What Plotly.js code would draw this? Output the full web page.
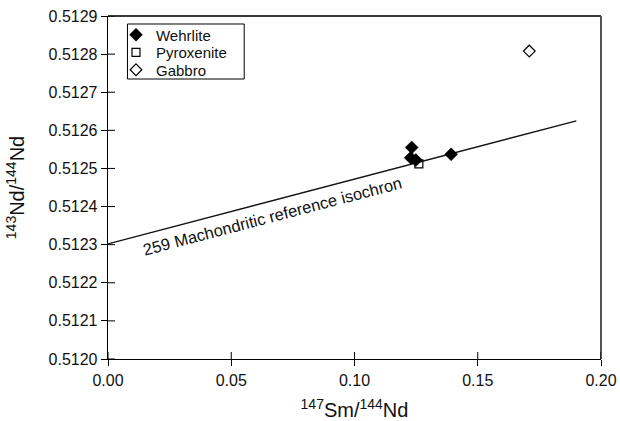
<!DOCTYPE html>
<html>
<head>
<meta charset="utf-8">
<script src="https://cdn.plot.ly/plotly-3.0.1.min.js"></script>
<style>html,body{margin:0;padding:0;background:#fff;}#chart{width:620px;height:421px;}</style>
</head>
<body>
<div id="chart"></div>
<script>
// Data
const wehrliteX = [0.1232, 0.1228, 0.1249, 0.1392];
const wehrliteY = [0.512555, 0.512528, 0.512522, 0.512537];
const pyroxeniteX = [0.1261];
const pyroxeniteY = [0.512512];
const gabbroX = [0.1709];
const gabbroY = [0.512808];
const isochronX = [0.0, 0.190];
const isochronY = [0.512302, 0.512625];
const isochronLabel = "259 Machondritic reference isochron";
const xTicks = [0.00, 0.05, 0.10, 0.15, 0.20];
const xTickText = ["0.00", "0.05", "0.10", "0.15", "0.20"];
const yTicks = [0.5120, 0.5121, 0.5122, 0.5123, 0.5124, 0.5125, 0.5126, 0.5127, 0.5128, 0.5129];
const yTickText = ["0.5120", "0.5121", "0.5122", "0.5123", "0.5124", "0.5125", "0.5126", "0.5127", "0.5128", "0.5129"];

const FONT = "Liberation Sans, Arial, Helvetica, sans-serif";
const LEG_FONT = {family: FONT, size: 15, color: "#111"};

const traces = [
  {x: isochronX, y: isochronY, mode: "lines", line: {color: "#111", width: 1.3}, showlegend: false, hoverinfo: "skip"},
  {x: wehrliteX, y: wehrliteY, mode: "markers", name: "Wehrlite", legend: "legend",
   marker: {symbol: "diamond", size: 10, color: "#000", line: {color: "#000", width: 0.5}}},
  {x: pyroxeniteX, y: pyroxeniteY, mode: "markers", name: "Pyroxenite", legend: "legend2",
   marker: {symbol: "square-open", size: 8, color: "#000", line: {color: "#000", width: 1.2}}},
  {x: gabbroX, y: gabbroY, mode: "markers", name: "Gabbro", legend: "legend3",
   marker: {symbol: "diamond-open", size: 9, color: "#000", line: {color: "#000", width: 1.2}}}
];

function leg(y) {
  return {x: 0.0162, y: y, xanchor: "left", yanchor: "middle", bgcolor: "rgba(0,0,0,0)",
          borderwidth: 0, font: LEG_FONT, itemwidth: 30};
}

// inner halves of the crossing tick marks, placed at the axis tick values
const innerTicks = [];
xTicks.forEach(v => innerTicks.push({type: "line", xref: "x", yref: "paper", ysizemode: "pixel", yanchor: 0,
  x0: v, x1: v, y0: 0, y1: 7, line: {color: "#000", width: 1}}));
yTicks.forEach(v => innerTicks.push({type: "line", xref: "paper", yref: "y", xsizemode: "pixel", xanchor: 0,
  x0: 0, x1: 7, y0: v, y1: v, line: {color: "#000", width: 1}}));

const layout = {
  width: 620, height: 421,
  margin: {l: 108, r: 19, t: 16, b: 62},
  paper_bgcolor: "#fff", plot_bgcolor: "#fff",
  font: {family: FONT, size: 16, color: "#111"},
  showlegend: true,
  legend: leg(0.9446),
  legend2: leg(0.8930),
  legend3: leg(0.8426),
  xaxis: {range: [0, 0.20], tickvals: xTicks, ticktext: xTickText,
          showgrid: false, zeroline: false, showline: true, linecolor: "#000", linewidth: 1.3,
          ticks: "outside", ticklen: 6, tickcolor: "#000", tickwidth: 1,
          title: {text: "<sup>147</sup>Sm/<sup>144</sup>Nd", font: {family: FONT, size: 20, color: "#111"}, standoff: 18},
          tickfont: {family: FONT, size: 16, color: "#111"}},
  yaxis: {range: [0.5120, 0.5129], tickvals: yTicks, ticktext: yTickText,
          showgrid: false, zeroline: false, showline: true, linecolor: "#000", linewidth: 1.3,
          ticks: "outside", ticklen: 6, tickcolor: "#000", tickwidth: 1,
          title: {text: "<sup>143</sup>Nd/<sup>144</sup>Nd", font: {family: FONT, size: 20, color: "#111"}, standoff: 18},
          tickfont: {family: FONT, size: 16, color: "#111"}},
  shapes: [
    {type: "line", xref: "paper", yref: "paper", x0: 0, x1: 1, y0: 1, y1: 1, line: {color: "#3a3a3a", width: 2}},
    {type: "line", xref: "paper", yref: "paper", x0: 1, x1: 1, y0: 0, y1: 1, line: {color: "#555", width: 2}},
    {type: "rect", xref: "paper", yref: "paper", x0: 0.0395, x1: 0.2763, y0: 0.8163, y1: 0.9767,
     line: {color: "#000", width: 1}, fillcolor: "rgba(0,0,0,0)"}
  ].concat(innerTicks),
  annotations: [
    {x: 0.0668, y: 0.5123745, xref: "x", yref: "y", text: isochronLabel,
     showarrow: false, textangle: -14.7, font: {family: FONT, size: 16.5, color: "#111"}}
  ]
};

Plotly.newPlot("chart", traces, layout, {displayModeBar: false, staticPlot: true});
</script>
</body>
</html>
